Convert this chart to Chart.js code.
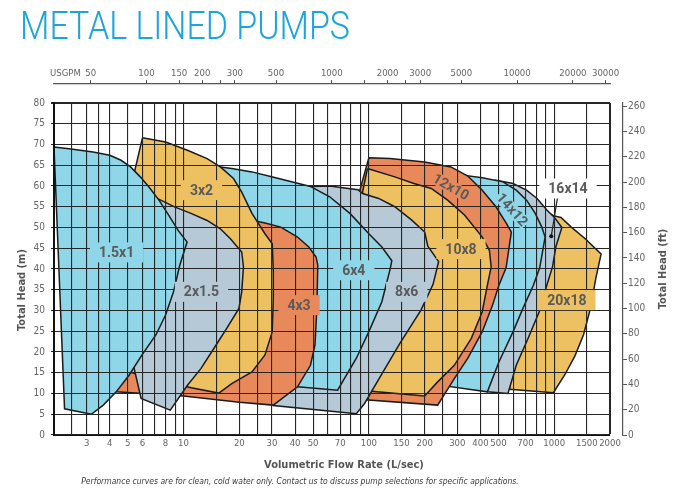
<!DOCTYPE html>
<html>
<head>
<meta charset="utf-8">
<title>Metal Lined Pumps</title>
<script src="https://cdn.jsdelivr.net/npm/chart.js@4.4.1/dist/chart.umd.min.js"></script>
<style>
  html, body { margin: 0; padding: 0; background: #fff; }
  #wrap { position: relative; width: 678px; height: 497px; overflow: hidden; }
  #chart { position: absolute; left: 0; top: 0; }
  #title {
    position: absolute; left: 20px; top: 7px;
    font-family: Roboto, "DejaVu Sans", sans-serif; font-weight: 300;
    font-size: 38px; line-height: 38px; color: #1ba4dd;
    white-space: nowrap; transform-origin: 0 0;
  }
</style>
</head>
<body>
<div id="wrap">
  <canvas id="chart" width="678" height="497"></canvas>
  <div id="title">METAL LINED PUMPS</div>
</div>
<script>
// Pump envelopes: [flow L/sec, head m], traced clockwise
const pump1_5x1 = [[2.0,69.4],[2.47,68.9],[3.25,68.2],[4.0,67.4],[4.6,66.2],[5.18,64.6],[5.84,62.2],[6.49,59.8],[7.37,56.6],[8.31,53.0],[9.35,49.3],[10.45,46.5],[9.54,40.9],[8.83,34.5],[8.0,28.9],[7.09,24.1],[5.97,19.3],[5.08,14.4],[4.33,10.4],[3.69,7.2],[3.18,5.0],[2.28,6.3]];
const pump2x1_5 = [[6.5,58.0],[9.0,54.9],[10.97,53.4],[13.4,51.7],[15.8,49.7],[17.9,47.3],[20.6,44.1],[21.05,40.5],[20.6,34.5],[19.9,30.5],[17.1,25.7],[14.6,20.9],[12.4,16.0],[10.5,12.0],[8.48,6.0],[5.9,8.8],[5.39,16.4]];
const pump3x2 = [[6.0,71.6],[8.0,70.6],[10.5,68.6],[13.4,66.6],[15.8,64.6],[18.6,61.8],[20.6,58.5],[23.4,53.4],[27.5,48.5],[30.1,46.1],[30.5,39.7],[30.5,32.9],[30.1,24.9],[27.5,19.3],[23.4,15.2],[18.2,12.4],[15.5,10.1],[11.0,11.4],[5.2,15.1],[5.45,63.6]];
const pump4x3 = [[22,52.0],[27.5,51.1],[33.5,50.1],[41.2,47.7],[47.4,45.3],[51.9,42.9],[53.0,40.9],[52.4,30.5],[51.2,21.7],[48.4,16.8],[41.2,11.6],[30.5,7.2],[20,7.9],[10,9.4],[4.33,10.4],[4.5,30]];
const pump6x4 = [[12,65.0],[15.8,64.6],[18.2,64.2],[23.4,63.4],[29.5,62.3],[37.8,61.1],[48.4,59.9],[61.4,57.4],[79.0,53.4],[100,48.5],[117.5,45.3],[133,42.0],[130.4,40.1],[117.5,32.1],[100,24.9],[85.6,18.5],[67.8,10.8],[41.2,11.6],[25,12.5]];
const pump8x6 = [[30,59.5],[48.4,59.9],[61.4,60.0],[87.3,59.1],[92.5,58.2],[113,57.0],[138,55.0],[171,51.7],[200,48.9],[208,45.5],[238,41.8],[222,36.3],[191,30.1],[147,22.1],[115,14.0],[94.8,7.6],[85.6,5.1],[30.5,7.1],[28,20]];
const pump10x8 = [[98.2,64.2],[138,62.2],[175,60.6],[217,59.4],[266,56.6],[328,53.0],[409,47.7],[447,44.5],[457,40.5],[436,36.1],[409,29.7],[357,23.3],[289,16.8],[235,12.8],[200,9.4],[100,10.6],[92.5,58.6]];
const pump12x10 = [[100,66.8],[130,66.6],[200,65.8],[277,64.6],[342,62.4],[409,59.0],[485,55.0],[552,51.0],[587,48.9],[550,40.3],[503,36.1],[465,31.3],[409,24.9],[342,18.5],[289,13.6],[235,7.2],[96,8.5],[88.9,58.6]];
const pump14x12 = [[300,62.8],[409,62.0],[529,61.0],[624,59.0],[709,56.6],[790,53.4],[857,50.1],[893,47.7],[835,40.3],[772,36.1],[678,30.5],[600,24.9],[503,17.6],[436,10.4],[270,11.7],[250,20]];
const pump16x14 = [[450,61.2],[485,61.4],[600,60.6],[709,59.0],[808,57.0],[912,54.2],[1000,52.5],[1100,50.0],[1020,45.3],[979,40.5],[912,36.1],[830,29.7],[723,23.3],[624,16.8],[563,10.0],[436,10.4],[450,40]];
const pump20x18 = [[800,55.0],[1000,52.8],[1088,52.4],[1237,50.1],[1470,47.3],[1790,43.6],[1676,37.7],[1569,30.5],[1438,24.1],[1292,19.0],[1137,14.4],[990,10.2],[575,11.0],[600,30]];

const pumpNames = ["1.5x1", "2x1.5", "3x2", "4x3", "6x4", "8x6", "10x8", "12x10", "14x12", "16x14", "20x18"];
const pumpCurves = [pump1_5x1, pump2x1_5, pump3x2, pump4x3, pump6x4, pump8x6, pump10x8, pump12x10, pump14x12, pump16x14, pump20x18];

// where each name sits (flow, head) and its tilt in degrees
const labelFlow = [4.35, 12.5, 12.5, 42, 82.9, 160, 314, 277, 593, 1186, 1171];
const labelHead = [44.0, 34.5, 59.0, 31.3, 39.7, 34.5, 44.8, 59.8, 54.3, 59.4, 32.5];
const labelAngle = [0, 0, 0, 0, 0, 0, 0, 30, 48, 0, 0];

// 16x14 callout line
const calloutFlow = [1043, 964];
const calloutHead = [57.3, 47.9];

// axes
const flowGrid = [2, 2.5, 3, 3.5, 4, 5, 6, 7, 8, 9, 10, 15, 20, 25, 30, 40, 50, 60, 70, 80, 90, 100, 150, 200, 250, 300, 400, 500, 600, 700, 800, 900, 1000, 1500, 2000];
const flowLabels = [3, 4, 5, 6, 8, 10, 20, 30, 40, 50, 70, 100, 150, 200, 300, 400, 500, 700, 1000, 1500, 2000];
const headTicks = [0, 5, 10, 15, 20, 25, 30, 35, 40, 45, 50, 55, 60, 65, 70, 75, 80];
const feetTicks = [0, 20, 40, 60, 80, 100, 120, 140, 160, 180, 200, 220, 240, 260];
const gpmTicks = [50, 100, 150, 200, 250, 300, 500, 1000, 1500, 2000, 2500, 3000, 5000, 10000, 20000, 30000];
const gpmLabels = [50, 100, 150, 200, 300, 500, 1000, 2000, 3000, 5000, 10000, 20000, 30000];

const GPM_PER_LPS = 15.850;
const FT_PER_M = 3.28084;

// colours
const BLUE = "#8ed6e8";
const GREY = "#b6c9d6";
const YELLOW = "#edc062";
const ORANGE = "#e8895b";
const pumpColors = [BLUE, GREY, YELLOW, ORANGE, BLUE, GREY, YELLOW, ORANGE, BLUE, GREY, YELLOW];
const labelBg = [BLUE, GREY, YELLOW, ORANGE, BLUE, GREY, YELLOW, ORANGE, BLUE, "#ffffff", YELLOW];

const NARROW = "'Liberation Sans Narrow', 'DejaVu Sans Condensed', Roboto, sans-serif";
const tickColor = "#666666";
const gridColor = "#262626";

// fit the big heading to its width in the picture
function fitTitle() {
  const t = document.getElementById("title");
  t.style.transform = "none";
  const w = t.getBoundingClientRect().width;
  if (w > 0) t.style.transform = "scaleX(" + (330 / w) + ")";
}
fitTitle();
if (document.fonts) document.fonts.ready.then(fitTitle);

Chart.defaults.font.family = NARROW;

// build datasets, first one ends up on top
const datasets = [{
  label: "16x14 callout",
  data: calloutFlow.map((f, i) => ({ x: f, y: calloutHead[i] })),
  showLine: true,
  fill: false,
  borderColor: "#222",
  borderWidth: 1.2,
  pointRadius: [0, 2],
  pointBackgroundColor: "#111",
  pointBorderWidth: 0
}];

pumpCurves.forEach((curve, i) => {
  const pts = curve.map(p => ({ x: p[0], y: p[1] }));
  pts.push({ x: curve[0][0], y: curve[0][1] });
  datasets.push({
    label: pumpNames[i],
    data: pts,
    showLine: true,
    fill: "shape",
    backgroundColor: pumpColors[i],
    borderColor: "#1b1b1b",
    borderWidth: 1.5,
    pointRadius: 0,
    tension: 0
  });
});

// names, axis titles and footnote
const textPlugin = {
  id: "pumpText",
  afterDraw(chart) {
    const { ctx, chartArea: a, scales } = chart;
    const x = scales.x, y = scales.y;
    ctx.save();

    ctx.font = "bold 14px Roboto, 'DejaVu Sans', sans-serif";
    ctx.textAlign = "center";
    ctx.textBaseline = "middle";
    pumpNames.forEach((name, i) => {
      const px = x.getPixelForValue(labelFlow[i]);
      const py = y.getPixelForValue(labelHead[i]);
      const w = ctx.measureText(name).width;
      const tilted = labelAngle[i] !== 0;
      const padX = tilted ? 1 : 9;
      const h = tilted ? 13 : 20;
      ctx.save();
      ctx.translate(px, py);
      ctx.rotate(labelAngle[i] * Math.PI / 180);
      ctx.fillStyle = labelBg[i];
      ctx.fillRect(-w / 2 - padX, -h / 2, w + padX * 2, h);
      ctx.fillStyle = "#5a5a5a";
      ctx.fillText(name, 0, 1);
      ctx.restore();
    });

    ctx.fillStyle = tickColor;
    ctx.font = "9.5px " + NARROW;
    ctx.textAlign = "left";
    ctx.fillText("USGPM", a.left - 4, scales.x2.bottom - 10);

    ctx.fillStyle = "#555";
    ctx.font = "bold 11px " + NARROW;
    ctx.textAlign = "center";
    ctx.fillText("Volumetric Flow Rate (L/sec)", (a.left + a.right) / 2 + 12, a.bottom + 30);

    ctx.save();
    ctx.translate(22, (a.top + a.bottom) / 2 + 21);
    ctx.rotate(-Math.PI / 2);
    ctx.fillText("Total Head (m)", 0, 0);
    ctx.restore();

    ctx.save();
    ctx.translate(663, (a.top + a.bottom) / 2);
    ctx.rotate(-Math.PI / 2);
    ctx.fillText("Total Head (ft)", 0, 0);
    ctx.restore();

    ctx.fillStyle = "#3a3a3a";
    ctx.font = "italic 8.5px " + NARROW;
    ctx.fillText("Performance curves are for clean, cold water only. Contact us to discuss pump selections for specific applications.", 300, 482);

    ctx.restore();
  }
};

const frameWidth = 2;

new Chart(document.getElementById("chart"), {
  type: "scatter",
  data: { datasets: datasets },
  options: {
    responsive: false,
    animation: false,
    layout: { padding: { top: 62, left: 0, right: 0, bottom: 0 } },
    plugins: {
      legend: { display: false },
      tooltip: { enabled: false }
    },
    scales: {
      x: {
        type: "logarithmic",
        position: "bottom",
        min: 2,
        max: 2000,
        afterBuildTicks: s => { s.ticks = flowGrid.map(v => ({ value: v })); },
        afterFit: s => { s.height = 62; },
        grid: {
          z: 1,
          color: gridColor,
          lineWidth: c => (c.tick && c.tick.value === 2000 ? frameWidth : 1.1),
          drawTicks: false
        },
        border: { display: true, z: 1, color: "#111", width: frameWidth },
        ticks: {
          autoSkip: false,
          maxRotation: 0,
          padding: 3,
          color: tickColor,
          font: { size: 9.5 },
          callback: v => (flowLabels.includes(v) ? String(v) : "")
        }
      },
      xGap: {
        type: "linear",
        position: "top",
        weight: 0,
        display: true,
        grid: { display: false },
        border: { display: false },
        ticks: { display: false },
        afterFit: s => { s.height = 19; }
      },
      x2: {
        type: "logarithmic",
        position: "top",
        weight: 1,
        min: 2 * GPM_PER_LPS,
        max: 2000 * GPM_PER_LPS,
        afterBuildTicks: s => { s.ticks = gpmTicks.map(v => ({ value: v })); },
        afterFit: s => { s.height = 22; },
        grid: { drawOnChartArea: false, drawTicks: true, tickLength: 4, color: "#555", lineWidth: 1 },
        border: { display: true, color: "#555", width: 1.2 },
        ticks: {
          autoSkip: false,
          maxRotation: 0,
          padding: 1,
          color: tickColor,
          font: { size: 9.5 },
          callback: v => (gpmLabels.includes(v) ? String(v) : "")
        }
      },
      y: {
        type: "linear",
        position: "left",
        min: 0,
        max: 80,
        afterBuildTicks: s => { s.ticks = headTicks.map(v => ({ value: v })); },
        afterFit: s => { s.width = 54; },
        grid: {
          z: 1,
          color: gridColor,
          lineWidth: c => (c.tick && c.tick.value === 80 ? frameWidth : 1.1),
          drawTicks: true,
          tickLength: 3
        },
        border: { display: true, z: 1, color: "#111", width: frameWidth },
        ticks: { padding: 6, color: tickColor, font: { size: 10 } }
      },
      yGap: {
        type: "linear",
        position: "right",
        weight: 0,
        display: true,
        grid: { display: false },
        border: { display: false },
        ticks: { display: false },
        afterFit: s => { s.width = 13; }
      },
      y2: {
        type: "linear",
        position: "right",
        weight: 1,
        min: 0,
        max: 80 * FT_PER_M,
        afterBuildTicks: s => { s.ticks = feetTicks.map(v => ({ value: v })); },
        afterFit: s => { s.width = 55; },
        grid: { drawOnChartArea: false, drawTicks: true, tickLength: 4, color: "#555" },
        border: { display: true, color: "#555", width: 1.2 },
        ticks: { padding: 1, color: tickColor, font: { size: 10 } }
      }
    }
  },
  plugins: [textPlugin]
});
</script>
</body>
</html>
